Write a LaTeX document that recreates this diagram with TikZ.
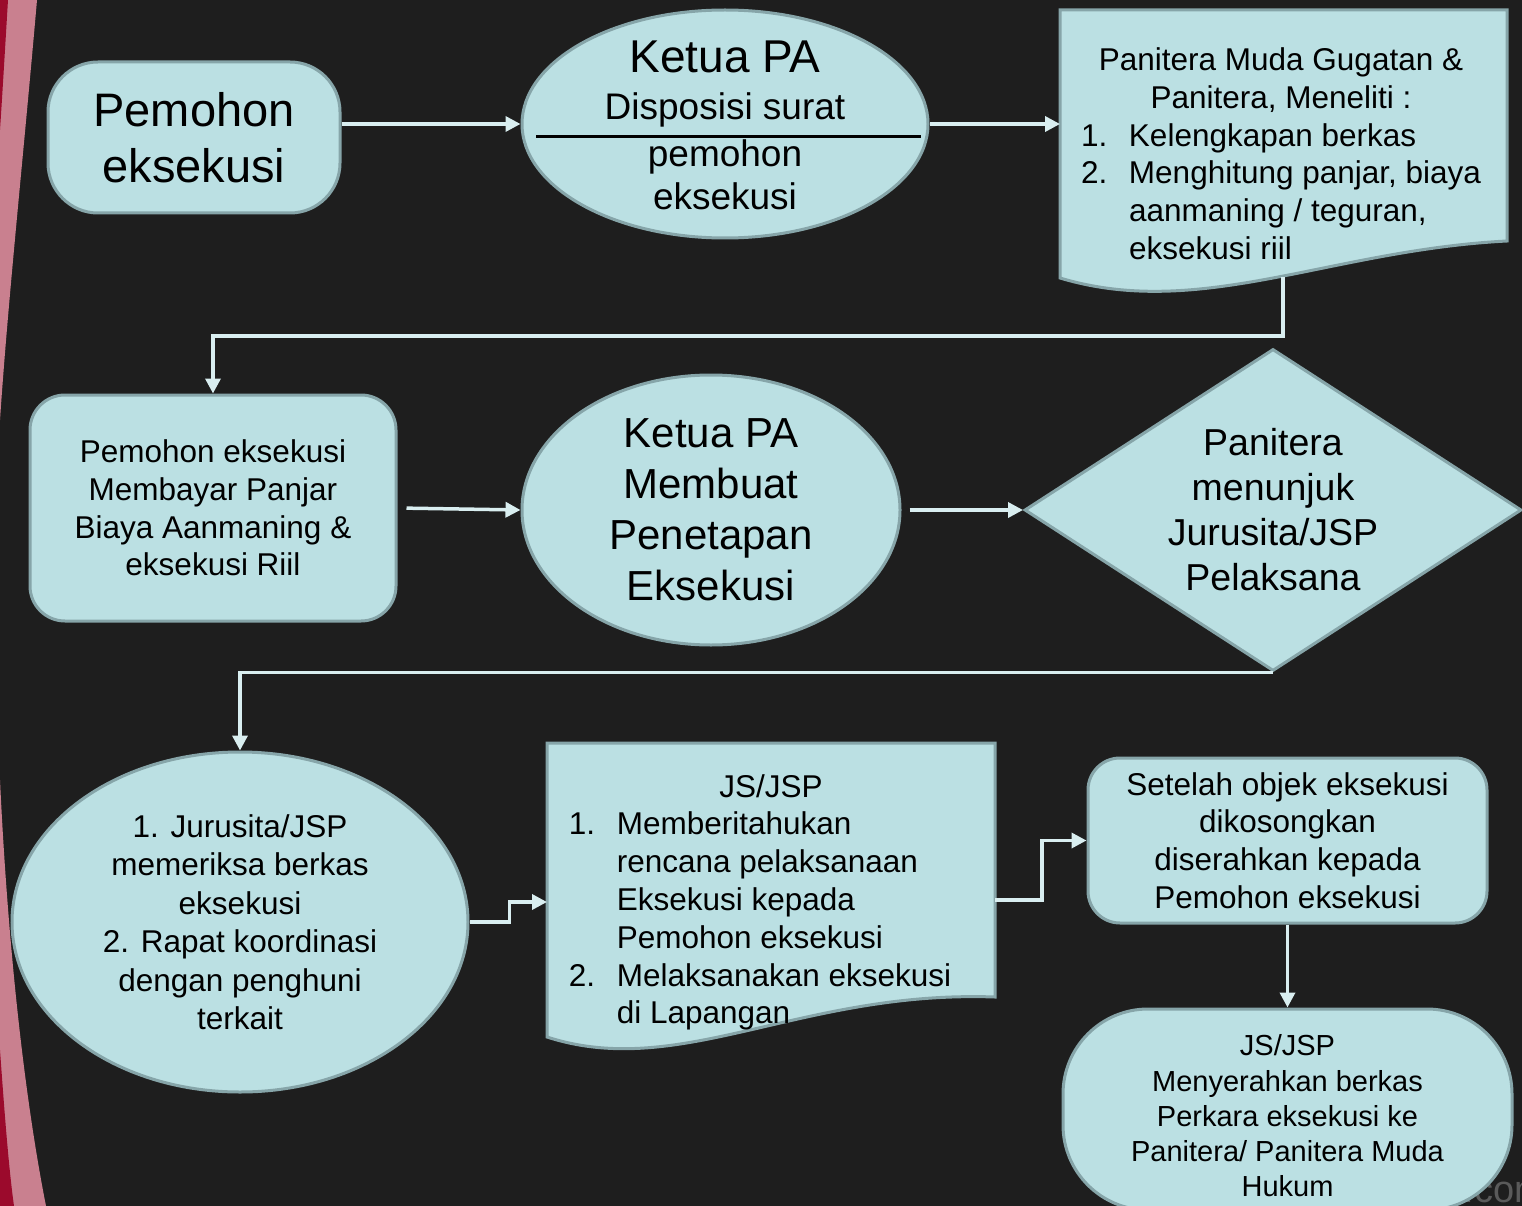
\documentclass[tikz,border=0pt]{standalone}
\usepackage{fontspec}
\setmainfont{Liberation Sans}
\usetikzlibrary{shapes.geometric,arrows.meta,positioning,calc}

\definecolor{bg}{HTML}{1E1E1E}
\definecolor{boxfill}{HTML}{BBE0E3}
\definecolor{boxline}{HTML}{86A5A9}
\definecolor{flow}{HTML}{D9EEF0}
\definecolor{rosy}{HTML}{C9808F}
\definecolor{crimson}{HTML}{9B0A2C}
\definecolor{markgray}{HTML}{5A5A5A}

\newcommand{\fsize}[2]{\fontsize{#1pt}{#2pt}\selectfont}

\begin{document}
\begin{tikzpicture}
[x=1pt,y=-1pt,
block/.style={draw=boxline,line width=3pt,fill=boxfill,align=center,inner sep=0pt},
rbox/.style={block,rectangle,rounded corners=#1},
oval/.style={block,ellipse},
docshape/.style={draw=boxline,line width=3pt,fill=boxfill},
flowline/.style={draw=flow,line width=3.5pt,-{Triangle[length=15pt,width=15pt]}},
txt/.style={font=\fsize{31.5}{37.8}}]

\useasboundingbox (0,0) rectangle (1522,1206);
\clip (0,0) rectangle (1522,1206);
\fill[bg] (0,0) rectangle (1522,1206);

% left border strip
\fill[rosy] (0,0) -- (37,0) .. controls (24,150) and (8,300) .. (0,420) -- cycle;
\fill[crimson] (0,0) -- (8,0) .. controls (5,50) and (2,100) .. (0,130) -- cycle;
\fill[rosy] (0,780) .. controls (8,950) and (25,1100) .. (46,1206) -- (0,1206) -- cycle;
\fill[crimson] (0,1050) .. controls (5,1120) and (9,1170) .. (14,1206) -- (0,1206) -- cycle;
\node[anchor=base west,text=markgray,font=\fsize{38}{45}] (site) at (1460,1202) {.com};

% row 1
\node (pemohon) [rbox=50pt,minimum width=292pt,minimum height=151pt,font=\fsize{47}{56}] at (194,137.5) {Pemohon\\eksekusi};
\node (kpa) [oval,minimum width=406pt,minimum height=228pt] at (725,124) {};
\node (kpaTitle) [anchor=base,font=\fsize{46}{55}] at (725,73) {Ketua PA};
\node (kpaSub) [anchor=base,font=\fsize{37}{44}] at (725,120) {Disposisi surat};
\draw[black,line width=3pt] (536,137) -- (921,137);
\node (kpaObj) [align=center,inner sep=0pt,font=\fsize{37}{43.3}] at (725,175) {pemohon\\eksekusi};

\filldraw[docshape] (1060,10) -- (1507,10) -- (1507,241) .. controls (1330,250) and (1200,320) .. (1060,278) -- cycle;
\node (teliti) [txt,inner sep=0pt] at (1281,157.5) {%
\begin{tabular}{@{}p{48pt}@{}l@{}}
\multicolumn{2}{@{}c@{}}{Panitera Muda Gugatan \&}\\
\multicolumn{2}{@{}c@{}}{Panitera, Meneliti :}\\
1. & Kelengkapan berkas\\
2. & Menghitung panjar, biaya\\
 & aanmaning / teguran,\\
 & eksekusi riil
\end{tabular}};
\coordinate (d1w) at (1060,124);
\coordinate (d1b) at (1283,277);

% row 2
\node (bayar) [rbox=35pt,minimum width=366pt,minimum height=226pt,txt] at (213,508) {Pemohon eksekusi\\Membayar Panjar\\Biaya Aanmaning \&\\eksekusi Riil};
\node (kpa2) [oval,minimum width=378pt,minimum height=270pt,font=\fsize{42}{51}] at (711,510) {Ketua PA\\Membuat\\Penetapan\\Eksekusi};
\node (dia) [block,diamond,aspect=1.54,minimum width=497pt,minimum height=322pt,font=\fsize{37.5}{45}] at (1273,510) {Panitera\\menunjuk\\Jurusita/JSP\\Pelaksana};

% row 3
\node (juru) [oval,minimum width=456pt,minimum height=340pt,font=\fsize{31.5}{38.5}] at (240,922) {1. Jurusita/JSP\\memeriksa berkas\\eksekusi\\2. Rapat koordinasi\\dengan penghuni\\terkait};

\filldraw[docshape] (547,743) -- (995,743) -- (995,997) .. controls (800,990) and (680,1080) .. (547,1037) -- cycle;
\node (lapangan) [txt,inner sep=0pt] at (760,903) {%
\begin{tabular}{@{}p{48pt}@{}l@{}}
\multicolumn{2}{@{}c@{}}{\hspace*{22pt}JS/JSP}\\
1. & Memberitahukan\\
 & rencana pelaksanaan\\
 & Eksekusi kepada\\
 & Pemohon eksekusi\\
2. & Melaksanakan eksekusi\\
 & di Lapangan
\end{tabular}};
\coordinate (d2w) at (547,902);
\coordinate (d2e) at (995,900);

\node (setelah) [rbox=32pt,minimum width=399pt,minimum height=165pt,txt] at (1287.5,840.5) {Setelah objek eksekusi\\dikosongkan\\diserahkan kepada\\Pemohon eksekusi};
\node (serah) [rbox=85pt,minimum width=449pt,minimum height=201pt] at (1287.5,1109.5) {};
\node (serahText) [align=center,inner sep=0pt,font=\fsize{29}{35.3}] at (1287.5,1116) {JS/JSP\\Menyerahkan berkas\\Perkara eksekusi ke\\Panitera/ Panitera Muda\\Hukum};

% connectors
\draw[flowline] (pemohon.east |- kpa.west) -- (kpa.west);
\draw[flowline] (kpa.east) -- (d1w);
\draw[flowline] (d1b) -- ++(0,59) -| (bayar.north);
\draw[flowline,shorten <=9pt] (bayar.east) -- (kpa2.west);
\draw[flowline,shorten <=8pt] (kpa2.east) -- (dia.west);
\draw[flowline] (dia.south) -| (juru.north);
\draw[flowline] (juru.east) -- ++(40,0) |- (d2w);
\draw[flowline] (d2e) -- ++(47,0) |- (setelah.west);
\draw[flowline] (setelah.south) -- (serah.north);

\end{tikzpicture}
\end{document}
